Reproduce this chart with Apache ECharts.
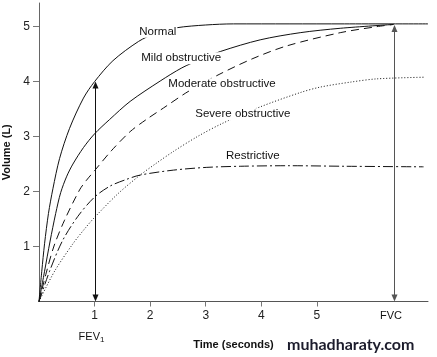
<!DOCTYPE html>
<html><head><meta charset="utf-8">
<script src="https://cdn.jsdelivr.net/npm/echarts@6/dist/echarts.min.js"></script>
<style>html,body{margin:0;padding:0;background:#fff}#c{width:437px;height:357px}</style>
</head><body><div id="c"></div>
<script>
// tick labels
const xTicks = [1, 2, 3, 4, 5];
const yTicks = [1, 2, 3, 4, 5];
// curves: [time (s), volume (L)]
const normal = [[0,0],[0.05,0.55],[0.1,1.05],[0.17,1.6],[0.25,2.05],[0.37,2.6],[0.55,3.15],[0.8,3.7],[1,4.0],[1.33,4.38],[1.79,4.73],[2.1,4.88],[2.48,4.98],[3,5.03],[3.5,5.05],[4.5,5.05],[5.5,5.05],[7,5.05]];
const mild = [[0,0],[0.1,0.55],[0.2,1.1],[0.3,1.6],[0.39,1.98],[0.5,2.28],[0.61,2.5],[0.8,2.8],[1,3.05],[1.27,3.31],[1.64,3.64],[2.18,4.01],[2.57,4.25],[2.9,4.4],[3.27,4.55],[3.98,4.76],[4.7,4.89],[5.42,4.97],[6.38,5.04]];
const moderate = [[0,0],[0.13,0.52],[0.27,1.01],[0.46,1.48],[0.73,2.03],[0.85,2.2],[1,2.38],[1.3,2.74],[1.64,3.09],[1.93,3.31],[2.24,3.52],[2.7,3.83],[3.24,4.13],[3.85,4.42],[4.46,4.65],[5.42,4.89],[6.08,5.0],[6.38,5.04]];
const severe = [[0,0],[0.28,0.55],[0.61,1.05],[0.82,1.32],[1,1.53],[1.42,1.96],[1.82,2.3],[2.09,2.5],[2.42,2.73],[2.85,3.0],[3.3,3.24],[3.98,3.54],[4.7,3.8],[5.06,3.9],[5.6,3.99],[6.08,4.05],[6.92,4.08]];
const restrictive = [[0,0],[0.19,0.55],[0.42,1.1],[0.7,1.55],[1,1.9],[1.28,2.1],[1.57,2.22],[1.82,2.3],[2.42,2.39],[3.02,2.44],[3.62,2.46],[4.5,2.47],[5.5,2.46],[6.92,2.45]];
// FEV1 / FVC arrows: time and top volume
const arrowX = [1, 6.38];
const arrowTop = [4.0, 5.03];
const curveNames = ['Normal', 'Mild obstructive', 'Moderate obstructive', 'Severe obstructive', 'Restrictive'];

const chart = echarts.init(document.getElementById('c'), null, {renderer: 'canvas'});
const FONT = '"Liberation Sans", Arial, sans-serif';

function lineSeries(name, data, type, color) {
  return {
    name: name, type: 'line', data: data, showSymbol: false, symbol: 'none',
    smooth: 0.3, z: 3, silent: true,
    lineStyle: {color: color, width: 1, type: type}
  };
}

function renderArrow(params, api) {
  const x = api.value(0), top = api.value(1);
  const a = api.coord([x, 0]), b = api.coord([x, top]);
  const px = Math.round(a[0]) + 0.5;
  const L = 7, W = 3;
  const color = params.dataIndex === 0 ? '#111' : '#555';
  return {type: 'group', children: [
    {type: 'line', shape: {x1: px, y1: a[1] - L + 1, x2: px, y2: b[1] + L - 1}, style: {stroke: color, lineWidth: 1}},
    {type: 'polygon', shape: {points: [[px, b[1]], [px - W, b[1] + L], [px + W, b[1] + L]]}, style: {fill: color}},
    {type: 'polygon', shape: {points: [[px, a[1]], [px - W, a[1] - L], [px + W, a[1] - L]]}, style: {fill: color}}
  ]};
}

function label(text, x, y) {
  return {type: 'text', x: x, y: y, z: 100,
    style: {text: text, font: '11.5px ' + FONT, fill: '#111', align: 'center', verticalAlign: 'middle',
      backgroundColor: '#fff', padding: [0, 1]}};
}

chart.setOption({
  animation: false,
  backgroundColor: '#fff',
  grid: {left: 39, right: 9, top: 3, bottom: 55.5, containLabel: false, outerBoundsMode: 'none'},
  xAxis: {
    type: 'value', min: 0, max: 7,
    name: 'Time (seconds)', nameLocation: 'middle', nameGap: 38,
    nameTextStyle: {fontFamily: FONT, fontSize: 11, fontWeight: 'bold', color: '#111'},
    axisLine: {show: true, lineStyle: {color: '#555', width: 1}},
    axisTick: {show: true, inside: false, length: 5, customValues: xTicks, lineStyle: {color: '#777'}},
    axisLabel: {customValues: xTicks, fontFamily: FONT, fontSize: 12, color: '#222', margin: 8},
    splitLine: {show: false}
  },
  yAxis: {
    type: 'value', min: 0, max: 5.43,
    name: 'Volume (L)', nameLocation: 'middle', nameGap: 27, nameRotate: 90,
    nameTextStyle: {fontFamily: FONT, fontSize: 11, fontWeight: 'bold', color: '#111'},
    axisLine: {show: true, lineStyle: {color: '#666', width: 1}},
    axisTick: {show: true, inside: false, length: 6, customValues: yTicks, lineStyle: {color: '#777'}},
    axisLabel: {customValues: yTicks, fontFamily: FONT, fontSize: 12, color: '#222', margin: 9},
    splitLine: {show: false}
  },
  series: [
    lineSeries(curveNames[0], normal, 'solid', '#111'),
    lineSeries(curveNames[1], mild, 'solid', '#111'),
    lineSeries(curveNames[2], moderate, [8, 5], '#111'),
    lineSeries(curveNames[3], severe, [1, 2], '#111'),
    lineSeries(curveNames[4], restrictive, [10, 3, 2, 3], '#111'),
    {type: 'custom', renderItem: renderArrow, clip: false, z: 4, silent: true,
      data: arrowX.map((x, i) => [x, arrowTop[i]]), encode: {x: 0, y: 1}}
  ],
  graphic: [
    label(curveNames[0], 157.8, 31.7),
    label(curveNames[1], 181.2, 58.3),
    label(curveNames[2], 222, 84.3),
    label(curveNames[3], 242.9, 114.3),
    label(curveNames[4], 252.9, 155.7),
    {type: 'text', x: 91.5, y: 337, z: 100,
      style: {text: '{a|FEV}{b|1}', align: 'center', verticalAlign: 'middle',
        rich: {a: {font: '11px ' + FONT, fill: '#111'}, b: {font: '8px ' + FONT, fill: '#111', padding: [6, 0, 0, 0]}}}},
    {type: 'text', x: 391, y: 315.7, z: 100,
      style: {text: 'FVC', font: '11px ' + FONT, fill: '#111', align: 'center', verticalAlign: 'middle'}},
    {type: 'text', x: 287, y: 345, z: 100,
      style: {text: 'muhadharaty.com', font: 'bold 16px Lato, "Open Sans", sans-serif', fill: '#1c1c2c', align: 'left', verticalAlign: 'middle'}}
  ]
});
</script>
</body></html>
